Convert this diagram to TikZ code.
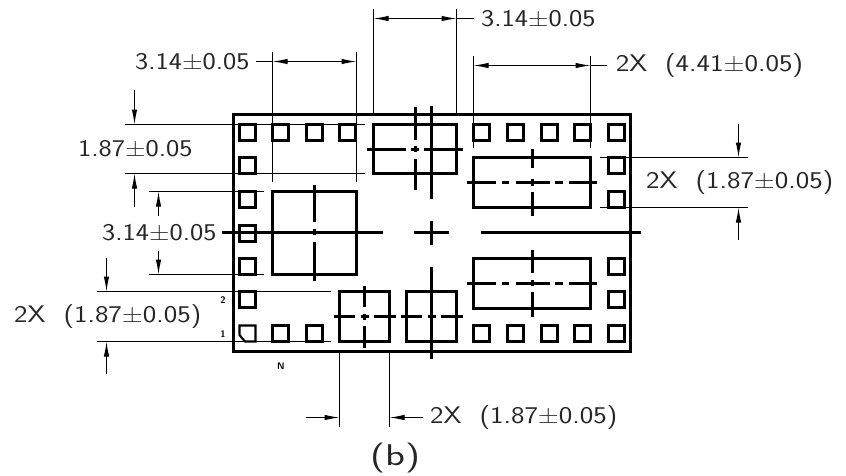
\documentclass[tikz,border=0pt]{standalone}
\usepackage{graphics}
\usetikzlibrary{arrows.meta}
\tikzset{
  outline/.style={line width=2.1pt},
  centerline/.style={line width=2.1pt},
  dimline/.style={line width=1pt},
  dimarrow/.style={line width=1pt,-{Latex[length=15pt,width=5.5pt]}},
  dimtext/.style={font=\fontsize{24}{24}\sffamily,inner sep=0pt,anchor=west,text=black!85},
  smalltext/.style={font=\fontsize{9.5}{10}\sffamily\bfseries,inner sep=0pt}
}
\newcommand{\wide}[1]{\scalebox{1.17}[1]{#1}}
\newcommand{\widex}[1]{\scalebox{1.195}[1]{#1}}
\begin{document}
\begin{tikzpicture}[x=1pt,y=-1pt]
  \useasboundingbox (0,0) rectangle (846,475);

  \draw[outline] (233.5,114.5) rectangle (630.5,351.5);

  \foreach \x in {272.5,306.5,339.5,473.5,507.5,541.5,574.5,608.5}
    \draw[outline] (\x,124.5) rectangle +(16,16);
  \foreach \x in {272.5,306.5,473.5,507.5,541.5,574.5,608.5}
    \draw[outline] (\x,325.5) rectangle +(16,16);
  \foreach \y in {124.5,157.5,191.5,225.5,258.5,291.5}
    \draw[outline] (239.5,\y) rectangle +(16,16);
  \foreach \y in {157.5,191.5,258.5,291.5}
    \draw[outline] (608.5,\y) rectangle +(16,16);
  \draw[outline] (239.5,325.5) -- (255.5,325.5) -- (255.5,341.5) -- (245,341.5) -- (239.5,335) -- cycle;

  \draw[outline] (373.5,124.5) rectangle (456.5,173.5);
  \draw[outline] (272.5,191.5) rectangle (356.5,274.5);
  \draw[outline] (473.5,157.5) rectangle (590.5,207.5);
  \draw[outline] (473.5,258.5) rectangle (590.5,308.5);
  \draw[outline] (339.5,291.5) rectangle (389.5,341.5);
  \draw[outline] (406.5,291.5) rectangle (456.5,341.5);

  \draw[centerline] (415.5,107) -- (415.5,139.5) (415.5,146) -- (415.5,152) (415.5,158.7) -- (415.5,190);
  \draw[centerline] (367.3,149.5) -- (405.7,149.5) (411,149.5) -- (418.7,149.5) (424,149.5) -- (463,149.5);
  \draw[centerline] (431.5,106) -- (431.5,198.7);
  \draw[centerline] (314.5,185) -- (314.5,222) (314.5,229) -- (314.5,235) (314.5,242.3) -- (314.5,280.7);
  \draw[centerline] (221.7,232.5) -- (382.7,232.5);
  \draw[centerline] (414.3,232.5) -- (449,232.5) (431.5,220.7) -- (431.5,245);
  \draw[centerline] (480.7,232.5) -- (641.3,232.5);
  \draw[centerline] (431.5,266.7) -- (431.5,359);

  \foreach \y in {182.5,283.5} {
    \draw[centerline] (467.3,\y) -- (496.3,\y) (502,\y) -- (509,\y) (515.7,\y) -- (549.7,\y)
      (555.3,\y) -- (563,\y) (568.7,\y) -- (597.3,\y);
  }
  \draw[centerline] (532.5,149) -- (532.5,168) (532.5,179) -- (532.5,185.5) (532.5,192) -- (532.5,216);
  \draw[centerline] (532.5,250) -- (532.5,273) (532.5,280) -- (532.5,286) (532.5,292.3) -- (532.5,316.7);
  \draw[centerline] (333.7,316.5) -- (355.3,316.5) (360.7,316.5) -- (368.7,316.5) (374,316.5) -- (396,316.5);
  \draw[centerline] (364.5,285.7) -- (364.5,307.3) (364.5,313.5) -- (364.5,319.5) (364.5,325.7) -- (364.5,347.7);
  \draw[centerline] (401,316.5) -- (422.3,316.5) (428,316.5) -- (435.7,316.5) (441,316.5) -- (462.7,316.5);

  \draw[dimline] (373.5,9.3) -- (373.5,115) (456.5,9.3) -- (456.5,115);
  \draw[dimarrow] (415,18.5) -- (373.5,18.5);
  \draw[dimarrow] (415,18.5) -- (456.5,18.5);
  \draw[dimline] (456.5,18.5) -- (473.5,18.5);
  \node[dimtext] (topdim) at (481,19) {\wide{3.14±0.05}};

  \draw[dimline] (272.5,52) -- (272.5,182) (356.5,52) -- (356.5,182);
  \draw[dimarrow] (314.5,61.5) -- (272.5,61.5);
  \draw[dimarrow] (314.5,61.5) -- (356.5,61.5);
  \draw[dimline] (256,61.5) -- (272.5,61.5);
  \node[dimtext] (leftdim) at (135,61.3) {\wide{3.14±0.05}};

  \draw[dimline] (473.5,56) -- (473.5,148) (590.5,56) -- (590.5,148);
  \draw[dimarrow] (532,65.5) -- (473.5,65.5);
  \draw[dimarrow] (532,65.5) -- (590.5,65.5);
  \draw[dimline] (590.5,65.5) -- (607.3,65.5);
  \node[dimtext] (widedim) at (615.7,65.7) {\widex{2X\ \ (4.41±0.05)}};

  \draw[dimline] (125,124.5) -- (365,124.5) (125,173.5) -- (365,173.5);
  \draw[dimarrow] (134.5,90) -- (134.5,124.5);
  \draw[dimarrow] (134.5,207) -- (134.5,173.5);
  \node[dimtext] (padh) at (78,149) {\wide{1.87±0.05}};

  \draw[dimline] (149,191.5) -- (264,191.5) (149,274.5) -- (264,274.5);
  \draw[dimarrow] (158.5,216) -- (158.5,191.5);
  \draw[dimarrow] (158.5,250.7) -- (158.5,274.5);
  \node[dimtext] (squareh) at (102,232.7) {\wide{3.14±0.05}};

  \draw[dimline] (97,291.5) -- (331,291.5) (97,341.5) -- (331,341.5);
  \draw[dimarrow] (106.5,258.3) -- (106.5,291.5);
  \draw[dimarrow] (106.5,374.3) -- (106.5,341.5);
  \node[dimtext] (lowh) at (14,317) {\widex{2X\ \ (1.87±0.05)}};

  \draw[dimline] (599.7,157.5) -- (748,157.5) (599.7,207.5) -- (748,207.5);
  \draw[dimarrow] (738.5,124) -- (738.5,157.5);
  \draw[dimarrow] (738.5,240) -- (738.5,207.5);
  \node[dimtext] (righth) at (646,182.4) {\widex{2X\ \ (1.87±0.05)}};

  \draw[dimline] (339.5,350) -- (339.5,427.3) (389.5,350) -- (389.5,427.3);
  \draw[dimarrow] (306,417.5) -- (339.5,417.5);
  \draw[dimarrow] (423,417.5) -- (389.5,417.5);
  \node[dimtext] (lowv) at (430,417.7) {\widex{2X\ \ (1.87±0.05)}};

  \node[dimtext,font=\fontsize{30}{30}\sffamily] (caption) at (370,458) {\scalebox{1.37}[1]{(b)}};
  \node[smalltext] (pintwo) at (223,300.5) {2};
  \node[smalltext] (pinone) at (223,334) {1};
  \node[smalltext] (pinn) at (281,366) {N};
\end{tikzpicture}
\end{document}
